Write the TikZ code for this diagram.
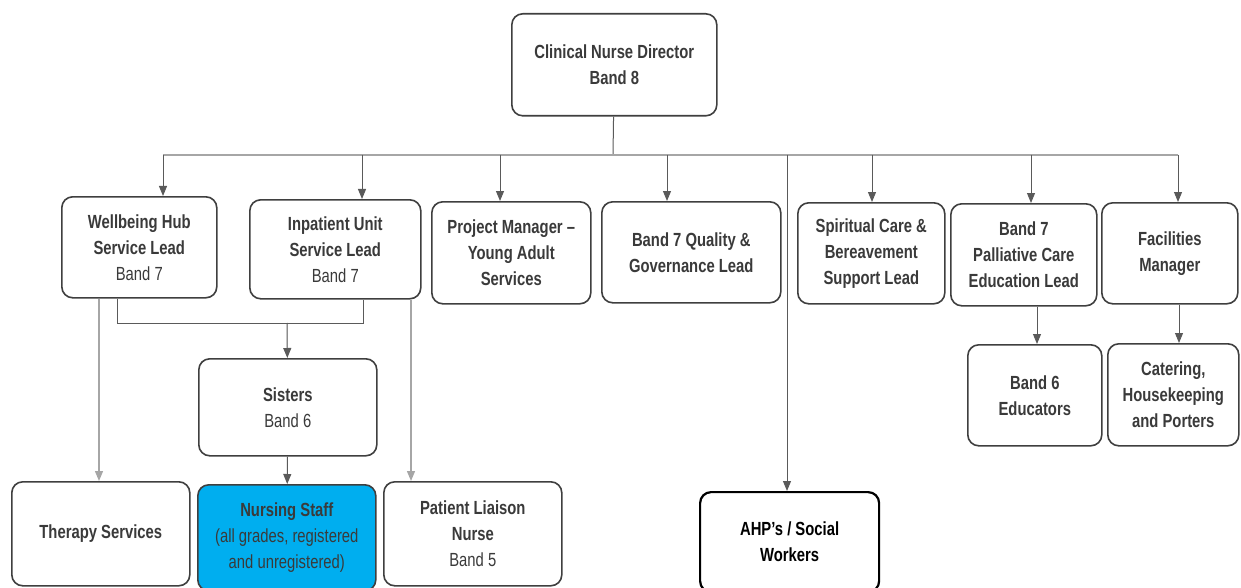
\documentclass[tikz,border=0pt]{standalone}
\usepackage{fontspec}
\setmainfont{Liberation Sans}[FakeStretch=0.78]
\usepackage{xcolor}
\usetikzlibrary{arrows.meta}

\definecolor{boxline}{HTML}{3F3F3F}
\definecolor{txt}{HTML}{3A3A3A}
\definecolor{busline}{HTML}{A6A6A6}
\definecolor{linkline}{HTML}{5A5A5A}
\definecolor{nursefill}{HTML}{00AEEF}

\begin{document}
\begin{tikzpicture}[x=1pt, y=-1pt, >={Triangle[length=10pt,width=8pt]},
      role/.style={draw=boxline, line width=1.6pt, rounded corners=11pt, fill=white,
        text=txt, align=center, anchor=north west, inner sep=0pt,
        font=\fontsize{19}{26}\selectfont\bfseries},
      link/.style={->, draw=linkline, fill=linkline, line width=1pt},
      faint/.style={->, draw=busline, fill=linkline, line width=1.3pt}]
    \useasboundingbox (0,0) rectangle (1241,588);
    \clip (0,0) rectangle (1241,588);

    \node[role, minimum width=205pt, minimum height=102pt] (director) at (511,13) {Clinical Nurse Director\\Band 8};

    \node[role, minimum width=155pt, minimum height=101pt] (wellbeing) at (61,196) {Wellbeing Hub\\Service Lead\\\mdseries Band 7};
    \node[role, minimum width=171pt, minimum height=99pt] (inpatient) at (249,199) {Inpatient Unit\\Service Lead\\\mdseries Band 7};
    \node[role, minimum width=159pt, minimum height=102pt] (project) at (431,201) {Project Manager –\\Young Adult\\Services};
    \node[role, minimum width=179pt, minimum height=101pt] (quality) at (601,201) {Band 7 Quality \&\\Governance Lead};
    \node[role, minimum width=147pt, minimum height=101pt] (spiritual) at (797,202) {Spiritual Care \&\\Bereavement\\Support Lead};
    \node[role, minimum width=146pt, minimum height=102pt] (education) at (950,203) {Band 7\\Palliative Care\\Education Lead};
    \node[role, minimum width=136pt, minimum height=101pt] (facilities) at (1101,202) {Facilities\\Manager};

    \node[role, minimum width=134pt, minimum height=101pt] (educators) at (967,344) {Band 6\\Educators};
    \node[role, minimum width=131pt, minimum height=102pt] (catering) at (1107,343) {Catering,\\Housekeeping\\and Porters};
    \node[role, minimum width=178pt, minimum height=97pt] (sisters) at (198,358) {Sisters\\\mdseries Band 6};

    \node[role, minimum width=178pt, minimum height=104pt] (therapy) at (11,481) {Therapy Services};
    \node[role, fill=nursefill, minimum width=178pt, minimum height=106pt] (nursing) at (197,484) {Nursing Staff\\\mdseries (all grades, registered\\\mdseries and unregistered)};
    \node[role, minimum width=178pt, minimum height=104pt] (liaison) at (383,481) {Patient Liaison\\Nurse\\\mdseries Band 5};
    \node[role, draw=black, text=black, line width=2.2pt, minimum width=179pt, minimum height=100pt] (ahp) at (699,491) {AHP’s / Social\\Workers};

    \coordinate (bus) at (613,155);
    \coordinate (busL) at (163,155);
    \coordinate (busR) at (1178,155);
    \draw[linkline, line width=1pt] (director) -- (bus);
    \draw[busline, line width=1.8pt] (busL) -- (busR);

    \coordinate (tapIU) at (362,155);
    \coordinate (tapPM) at (500,155);
    \coordinate (tapQG) at (667,155);
    \coordinate (tapAHP) at (787,155);
    \coordinate (tapSC) at (872,155);
    \coordinate (tapPC) at (1031,155);
    \draw[link] (busL) -- (busL |- wellbeing.north);
    \draw[link] (tapIU) -- (tapIU |- inpatient.north);
    \draw[link] (tapPM) -- (tapPM |- project.north);
    \draw[link] (tapQG) -- (tapQG |- quality.north);
    \draw[link] (tapAHP) -- (tapAHP |- ahp.north);
    \draw[link] (tapSC) -- (tapSC |- spiritual.north);
    \draw[link] (tapPC) -- (tapPC |- education.north);
    \draw[link] (busR) -- (busR |- facilities.north);

    \coordinate (joinL) at (117,323);
    \coordinate (joinM) at (287,323);
    \coordinate (joinR) at (363,323);
    \draw[linkline, line width=1pt] (joinL |- wellbeing.south) -- (joinL) -- (joinR) -- (joinR |- inpatient.south);
    \draw[link] (joinM) -- (sisters);
    \draw[link] (sisters) -- (nursing);

    \coordinate (toTherapy) at (99,400);
    \coordinate (toLiaison) at (411,400);
    \draw[faint] (toTherapy |- wellbeing.south) -- (toTherapy |- therapy.north);
    \draw[faint] (toLiaison |- inpatient.south) -- (toLiaison |- liaison.north);

    \coordinate (toEdu) at (1037,320);
    \coordinate (toCat) at (1179,320);
    \draw[link] (toEdu |- education.south) -- (toEdu |- educators.north);
    \draw[link] (toCat |- facilities.south) -- (toCat |- catering.north);
  \end{tikzpicture}
\end{document}
